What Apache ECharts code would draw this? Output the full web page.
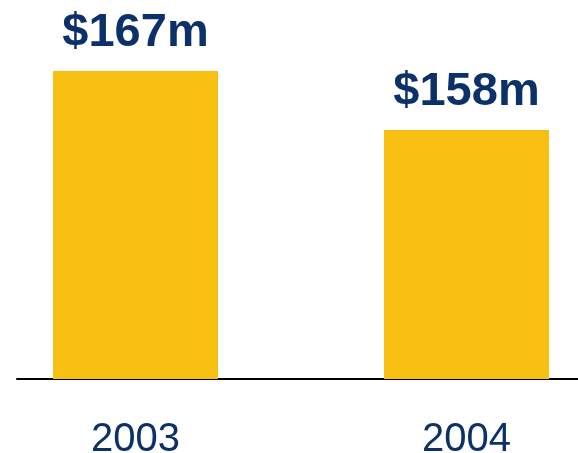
<!DOCTYPE html>
<html>
<head>
<meta charset="utf-8">
<script src="https://cdn.jsdelivr.net/npm/echarts@6/dist/echarts.min.js"></script>
<style>
  html, body { margin: 0; padding: 0; background: #fff; }
  #chart { width: 578px; height: 453px; }
</style>
</head>
<body>
<div id="chart"></div>
<script>
// Annual figures, in $ millions
const years = ['2003', '2004'];
const values = [167, 158];
const valueLabels = ['$167m', '$158m'];

const navy = '#0b3168';
const gold = '#f6bf12';

const chart = echarts.init(document.getElementById('chart'));
chart.setOption({
  animation: false,
  grid: [
    { left: -30, right: -54, top: 71, bottom: 74, containLabel: false, outerBoundsMode: 'none' },
    // second grid only carries the baseline rule
    { left: 17, right: 0, top: 71, bottom: 74, containLabel: false, outerBoundsMode: 'none' }
  ],
  xAxis: [
    {
      type: 'category',
      gridIndex: 0,
      data: years,
      axisLine: { show: false },
      axisTick: { show: false },
      axisLabel: {
        color: navy,
        fontFamily: 'Liberation Sans, Arial, sans-serif',
        fontSize: 40,
        margin: 41
      }
    },
    {
      type: 'value',
      gridIndex: 1,
      position: 'bottom',
      axisLine: { show: true, onZero: false, lineStyle: { color: '#000', width: 2 } },
      axisTick: { show: false },
      axisLabel: { show: false },
      splitLine: { show: false }
    }
  ],
  yAxis: [
    { type: 'value', gridIndex: 0, min: 120, max: 167, show: false },
    { type: 'value', gridIndex: 1, show: false }
  ],
  series: [{
    type: 'bar',
    xAxisIndex: 0,
    yAxisIndex: 0,
    data: values,
    barWidth: 165,
    itemStyle: { color: gold },
    label: {
      show: true,
      position: 'top',
      distance: 14,
      formatter: p => valueLabels[p.dataIndex],
      color: navy,
      fontFamily: 'Liberation Sans, Arial, sans-serif',
      fontWeight: 'bold',
      fontSize: 47
    }
  }]
});
</script>
</body>
</html>
